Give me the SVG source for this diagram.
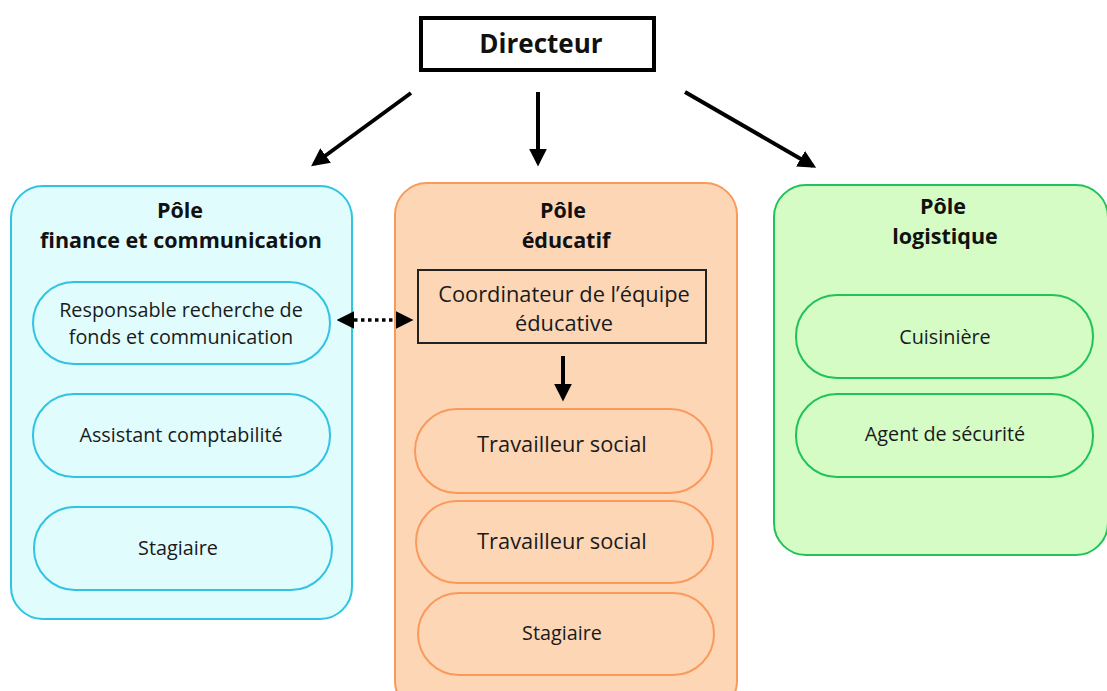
<svg xmlns="http://www.w3.org/2000/svg" width="1107" height="691" viewBox="0 0 1107 691">
<defs>
<style>
text{font-family:"Open Sans","Noto Sans","Liberation Sans",sans-serif;fill:#1a1a1a;text-anchor:middle}
.t{font-weight:700;font-size:21.5px;fill:#111}
.l{font-size:19.8px}
.m{font-size:21.8px}
.cy{fill:#e0fcfc;stroke:#2ec4e2;stroke-width:2}
.or{fill:#fdd6b6;stroke:#f99a5c;stroke-width:2}
.gr{fill:#d4fcc4;stroke:#22c25a;stroke-width:2}
.ar{stroke:#000;stroke-width:4;fill:none}
</style>
<marker id="ah" viewBox="0 0 10 10" refX="8" refY="5" markerWidth="4.5" markerHeight="4.5" orient="auto-start-reverse" markerUnits="strokeWidth">
<path d="M0,0 L10,5 L0,10 z" fill="#000"/>
</marker>
<marker id="ah2" viewBox="0 0 10 10" refX="8" refY="5" markerWidth="5" markerHeight="5" orient="auto-start-reverse" markerUnits="strokeWidth">
<path d="M0,0 L10,5 L0,10 z" fill="#000"/>
</marker>
</defs>
<rect width="1107" height="691" fill="#fff"/>

<g id="directeur">
<rect x="421" y="18" width="233" height="52" fill="#fff" stroke="#000" stroke-width="4"/>
<text x="541" y="53" style="font-weight:700;font-size:26px;fill:#111">Directeur</text>
</g>

<g id="pole-finance">
<rect class="cy" x="11" y="186" width="341" height="433" rx="32"/>
<text class="t" x="180" y="218">Pôle</text>
<text class="t" x="181" y="248">finance et communication</text>
</g>
<g id="responsable">
<rect class="cy" x="33" y="282" width="297" height="82" rx="41"/>
<text class="l" x="181" y="317">Responsable recherche de</text>
<text class="l" x="181" y="344">fonds et communication</text>
</g>
<g id="assistant">
<rect class="cy" x="33" y="394" width="297" height="83" rx="41"/>
<text class="l" x="181" y="442">Assistant comptabilité</text>
</g>
<g id="stagiaire-finance">
<rect class="cy" x="34" y="507" width="298" height="83" rx="41"/>
<text class="l" x="178" y="555">Stagiaire</text>
</g>

<g id="pole-educatif">
<rect class="or" x="395" y="183" width="342" height="530" rx="32"/>
<text class="t" x="563" y="218">Pôle</text>
<text class="t" x="566" y="248">éducatif</text>
</g>
<g id="coordinateur">
<rect x="418" y="270" width="288" height="73" fill="none" stroke="#222" stroke-width="2"/>
<text class="m" x="564" y="302">Coordinateur de l’équipe</text>
<text class="m" x="564" y="331">éducative</text>
</g>
<g id="travailleur1">
<rect class="or" x="415" y="409" width="297" height="84" rx="42"/>
<text class="m" x="562" y="452">Travailleur social</text>
</g>
<g id="travailleur2">
<rect class="or" x="416" y="501" width="297" height="82" rx="41"/>
<text class="m" x="562" y="549">Travailleur social</text>
</g>
<g id="stagiaire-educatif">
<rect class="or" x="418" y="593" width="296" height="82" rx="41"/>
<text class="l" x="562" y="640">Stagiaire</text>
</g>

<g id="pole-logistique">
<rect class="gr" x="774" y="185" width="334" height="370" rx="32"/>
<text class="t" x="943" y="214">Pôle</text>
<text class="t" x="945" y="244">logistique</text>
</g>
<g id="cuisiniere">
<rect class="gr" x="796" y="295" width="297" height="83" rx="41"/>
<text class="l" x="945" y="344">Cuisinière</text>
</g>
<g id="agent">
<rect class="gr" x="796" y="394" width="297" height="83" rx="41"/>
<text class="l" x="945" y="441">Agent de sécurité</text>
</g>

<g id="connectors">
<line class="ar" x1="411" y1="93" x2="314" y2="164" marker-end="url(#ah)"/>
<line class="ar" x1="538" y1="92" x2="538" y2="163" marker-end="url(#ah)"/>
<line class="ar" x1="685" y1="92" x2="813" y2="166" marker-end="url(#ah)"/>
<line class="ar" x1="563" y1="356" x2="563" y2="398" marker-end="url(#ah)"/>
<line x1="340" y1="320" x2="410" y2="320" stroke="#000" stroke-width="3.5" stroke-dasharray="3.5 3.5" marker-start="url(#ah2)" marker-end="url(#ah2)"/>
</g>
</svg>
